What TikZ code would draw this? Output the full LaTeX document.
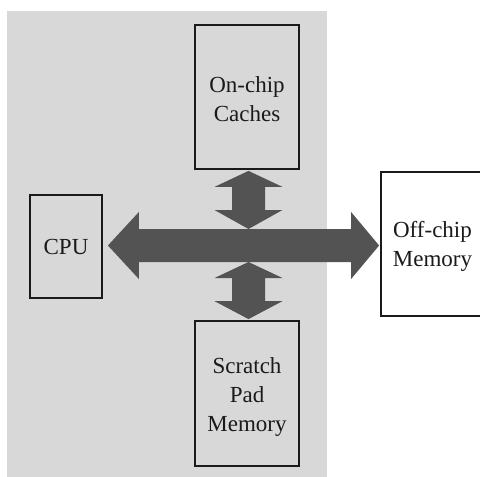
\documentclass[tikz,border=0pt]{standalone}
\usepackage{fontspec}
\setmainfont{Liberation Serif}
\usetikzlibrary{calc}

\definecolor{chipgray}{HTML}{D8D8D8}
\definecolor{busgray}{HTML}{535353}
\definecolor{inkblack}{HTML}{1A1A1A}

% vertical double block arrow between two points on the same vertical line
\newcommand\vbusarrow[4]{% top tip, bottom tip, top head length, bottom head length
  \fill[bus] let \p1=(#1), \p2=(#2) in
    (\p1) -- (\x1+34pt,\y1-#3pt) -- (\x1+16.5pt,\y1-#3pt) -- (\x1+16.5pt,\y2+#4pt)
    -- (\x1+34pt,\y2+#4pt) -- (\p2) -- (\x1-34pt,\y2+#4pt) -- (\x1-16.5pt,\y2+#4pt)
    -- (\x1-16.5pt,\y1-#3pt) -- (\x1-34pt,\y1-#3pt) -- cycle;}

\begin{document}
\begin{tikzpicture}[x=1pt,y=-1pt,
  unit/.style={draw=inkblack, line width=1.8pt, inner sep=0pt},
  unittext/.style={align=center, text=inkblack, inner sep=0pt,
    font=\fontsize{23}{29}\selectfont},
  bus/.style={fill=busgray}]
  \useasboundingbox (0,0) rectangle (480,477);
  \clip (0,0) rectangle (480,477);

  % on-chip region
  \fill[chipgray] (7,11) rectangle (327,477);

  % units
  \node[unit, minimum width=104pt, minimum height=144pt,
    label={[unittext, yshift=-2pt]center:On-chip\\Caches}] (caches) at (247,97) {};
  \node[unit, minimum width=72pt, minimum height=103pt,
    label={[unittext]center:CPU}] (cpu) at (66,246.5) {};
  \node[unit, fill=white, minimum width=103pt, minimum height=144pt,
    label={[unittext, yshift=-2pt]center:Off-chip\\Memory}] (offchip) at (432.5,244) {};
  \node[unit, minimum width=104pt, minimum height=145pt,
    label={[unittext, yshift=-3pt]center:Scratch\\Pad\\Memory}] (scratch) at (247,393.5) {};

  % bus geometry
  \coordinate (hub) at (248.5,245.5);
  \path (cpu.east |- hub) ++(5,0) coordinate (lt);
  \path (offchip.west |- hub) ++(-1,0) coordinate (rt);
  \path (hub |- caches.south) ++(0,1) coordinate (tt);
  \path (hub |- scratch.north) ++(0,-1) coordinate (bt);
  \path (hub) ++(0,-16.5) coordinate (st);
  \path (hub) ++(0,16.5) coordinate (sb);

  % main bus: CPU <-> off-chip memory
  \fill[bus] let \p1=(lt), \p2=(rt) in
    (\p1) -- (\x1+31pt,\y1+33.5pt) -- (\x1+31pt,\y1+16.5pt) -- (\x2-28pt,\y1+16.5pt)
    -- (\x2-28pt,\y1+33.5pt) -- (\p2) -- (\x2-28pt,\y1-33.5pt) -- (\x2-28pt,\y1-16.5pt)
    -- (\x1+31pt,\y1-16.5pt) -- (\x1+31pt,\y1-33.5pt) -- cycle;

  % branches to caches and scratch pad
  \vbusarrow{tt}{st}{16}{19}
  \vbusarrow{sb}{bt}{16}{18}
\end{tikzpicture}
\end{document}
